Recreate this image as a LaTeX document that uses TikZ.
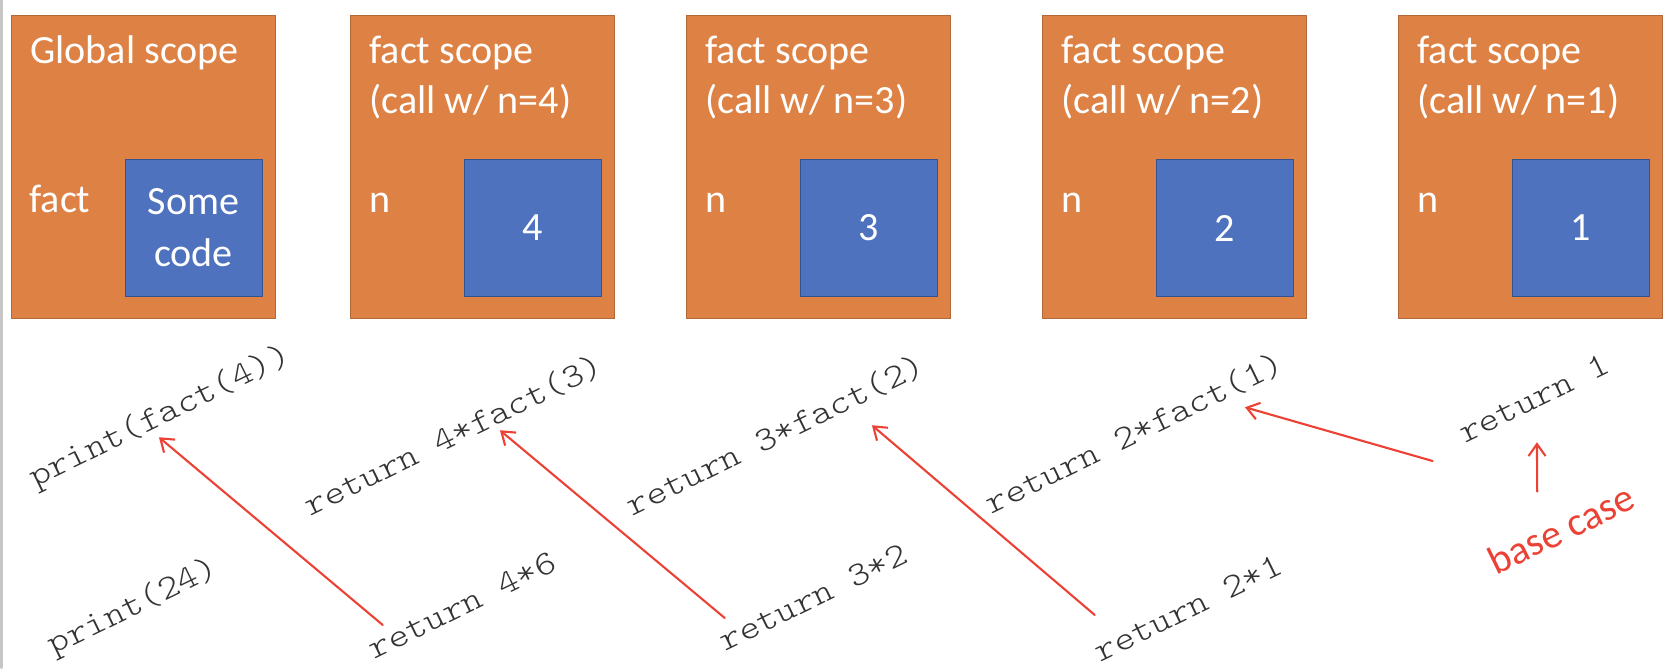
\documentclass[tikz,border=0pt]{standalone}
\usepackage{fontspec}
\setmainfont{Carlito}
\newfontfamily\codefont[FakeStretch=1.143]{Latin Modern Mono Light}
\usetikzlibrary{arrows.meta}
\definecolor{scopeorange}{RGB}{221,130,68}
\definecolor{scopeedge}{RGB}{178,104,56}
\definecolor{valblue}{RGB}{79,114,190}
\definecolor{valedge}{RGB}{50,84,145}
\definecolor{callred}{RGB}{236,66,54}
\tikzset{
	scopebox/.style={draw=scopeedge, fill=scopeorange, line width=.6pt, minimum width=5.28cm, minimum height=6.06cm, anchor=north west, inner sep=0},
	valbox/.style={draw=valedge, fill=valblue, line width=.6pt, minimum size=2.74cm, anchor=south east, inner sep=0, text=white, align=center, font=\fontsize{22.8}{29.6}\selectfont},
	lbl/.style={text=white, anchor=base west, inner sep=0, font=\fontsize{22.8}{28.4}\selectfont},
	code/.style={rotate=26, inner sep=0, text height=.48cm, text depth=.14cm, text=black!80, font=\codefont\fontsize{19.4}{23}\selectfont},
	note/.style={rotate=26, inner sep=0, text=callred, font=\fontsize{22.8}{28.4}\selectfont},
	callarrow/.style={draw=callred, line width=1.2pt, -{Straight Barb[length=2.4mm,width=3.4mm]}}
}
\begin{document}
\begin{tikzpicture}[line join=round, line cap=round]
		\useasboundingbox (0,0) rectangle (33.28,13.36);
		\draw[gray!45, line width=1.2pt] (0.03,0)--(0.03,13.36);
		% global scope
		\node[scopebox] (s0) at (0.22,13.06) {};
		\node[valbox] (v0) at ([xshift=-.27cm,yshift=.44cm]s0.south east) {Some\\code};
		\node[lbl] (t0) at ([xshift=.38cm,yshift=-.97cm]s0.north west) {Global scope};
		\node[lbl] (l0) at ([xshift=.36cm,yshift=-3.96cm]s0.north west) {fact};
		% one scope per call
		\foreach \x/\n in {7.0/4, 13.72/3, 20.84/2, 27.96/1}{
			\node[scopebox] (s\n) at (\x,13.06) {};
			\node[valbox] (v\n) at ([xshift=-.27cm,yshift=.44cm]s\n.south east) {\n};
			\node[lbl] (t\n) at ([xshift=.38cm,yshift=-.97cm]s\n.north west) {fact scope};
			\node[lbl] (u\n) at ([yshift=-1cm]t\n.base west) {(call w/ n=\n)};
			\node[lbl] (l\n) at ([xshift=.38cm,yshift=-3.96cm]s\n.north west) {n};
		}
		% calls
		\node[code] (p0) at (3.20,5.02) {print(fact(4))};
		\node[code] (r4) at (9.08,4.62) {return 4*fact(3)};
		\node[code] (r3) at (15.52,4.62) {return 3*fact(2)};
		\node[code] (r2) at (22.70,4.66) {return 2*fact(1)};
		\node[code] (r1) at (30.70,5.36) {return 1};
		% results
		\node[code] (q0) at (2.66,1.22) {print(24)};
		\node[code] (q4) at (9.26,1.22) {return 4*6};
		\node[code] (q3) at (16.28,1.38) {return 3*2};
		\node[code] (q2) at (23.78,1.16) {return 2*1};
		\node[note] (bc) at (31.22,2.78) {base case};
		\draw[callarrow] ([shift={(.24,.54)}]q4.west) -- ([shift={(-.16,-.12)}]p0.south);
		\draw[callarrow] ([shift={(.06,.52)}]q3.west) -- ([shift={(.78,.42)}]r4.south);
		\draw[callarrow] ([shift={(-.04,.80)}]q2.west) -- ([shift={(1.78,.52)}]r3.south);
		\draw[callarrow] ([shift={(-.57,-.50)}]r1.west) -- ([shift={(2.06,.84)}]r2.south);
		\draw[callarrow] ([shift={(-.35,.49)}]bc.north) -- ([shift={(-.10,-.56)}]r1.south);
	\end{tikzpicture}
\end{document}
